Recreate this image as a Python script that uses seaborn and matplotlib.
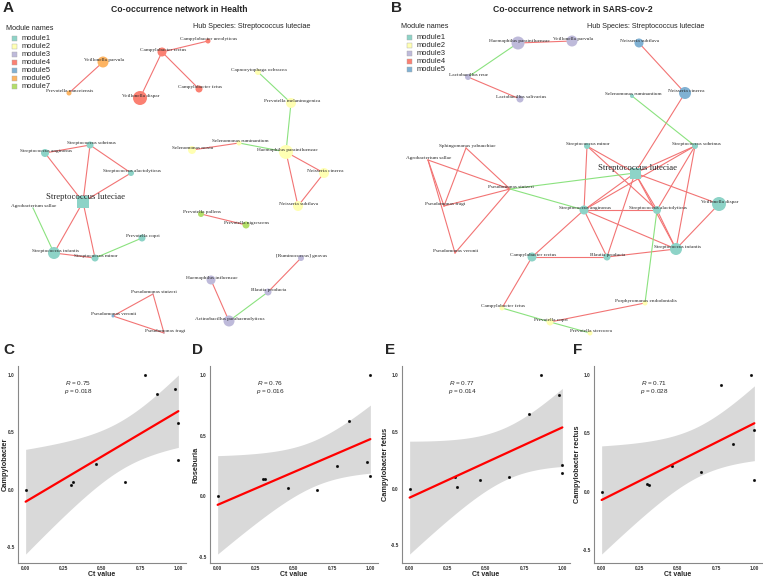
import numpy as np
import pandas as pd
import seaborn as sns
import matplotlib.pyplot as plt
from matplotlib.patches import Rectangle

sns.set_style("white")
plt.rcParams["font.family"] = ["Liberation Sans", "DejaVu Sans"]
plt.rcParams["mathtext.fontset"] = "custom"
plt.rcParams["mathtext.it"] = "Liberation Sans:italic"
plt.rcParams["mathtext.rm"] = "Liberation Sans"

W, H = 763, 578

module_colors = {"module1": "#8DD3C7", "module2": "#FFFFB3", "module3": "#BEBADA",
                 "module4": "#FB8072", "module5": "#80B1D3", "module6": "#FDB462",
                 "module7": "#B3DE69"}
pos_color = "#F27474"
neg_color = "#8BE27F"

# ---- network in Health (panel A): layout coords ----
health_nodes = ["Streptococcus luteciae", "Streptococcus alactolyticus", "Streptococcus sobrinus",
                "Streptococcus anginosus", "Agrobacterium sallae", "Streptococcus infantis",
                "Streptococcus minor", "Prevotella copri",
                "Capnocytophaga ochracea", "Prevotella melaninogenica", "Haemophilus parainfluenzae",
                "Selenomonas ruminantium", "Selenomonas noxia", "Neisseria cinerea", "Neisseria subflava",
                "[Ruminococcus] gnavus", "Blautia producta", "Haemophilus influenzae",
                "Actinobacillus parahaemolyticus",
                "Campylobacter rectus", "Campylobacter ureolyticus", "Campylobacter fetus", "Veillonella dispar",
                "Pseudomonas stutzeri", "Pseudomonas veronii", "Pseudomonas fragi",
                "Veillonella parvula", "Prevotella nanceiensis",
                "Prevotella pallens", "Prevotella nigrescens"]
health_module = ["module1"] * 8 + ["module2"] * 7 + ["module3"] * 4 + ["module4"] * 4 + \
                ["module5"] * 3 + ["module6"] * 2 + ["module7"] * 2
health_x = [83, 131, 90, 45, 33, 54, 95, 142,
            258, 291, 286, 239, 192, 324, 298,
            301, 268, 211, 229,
            162, 208, 199, 140,
            153, 113, 164,
            103, 69,
            201, 246]
health_y = [202, 173, 145, 153, 208, 253, 258, 238,
            72, 103, 152, 143, 150, 173, 206,
            258, 292, 280, 321,
            52, 41, 89, 98,
            294, 316, 333,
            62, 93,
            214, 225]
health_r = [6, 3, 3.5, 4, 0.5, 6, 3.5, 3.5,
            3, 5, 7, 2.5, 4, 5, 5,
            3, 3.5, 4.5, 5.5,
            4.5, 2.5, 3.5, 7,
            0.5, 1.5, 0.5,
            5.5, 2.5,
            3, 3.5]
health_pos_edges = [("Veillonella parvula", "Prevotella nanceiensis"),
                    ("Campylobacter rectus", "Campylobacter ureolyticus"),
                    ("Campylobacter rectus", "Veillonella dispar"),
                    ("Campylobacter rectus", "Campylobacter fetus"),
                    ("Selenomonas noxia", "Selenomonas ruminantium"),
                    ("Haemophilus parainfluenzae", "Neisseria cinerea"),
                    ("Haemophilus parainfluenzae", "Neisseria subflava"),
                    ("Neisseria cinerea", "Neisseria subflava"),
                    ("Prevotella pallens", "Prevotella nigrescens"),
                    ("[Ruminococcus] gnavus", "Blautia producta"),
                    ("Haemophilus influenzae", "Actinobacillus parahaemolyticus"),
                    ("Pseudomonas stutzeri", "Pseudomonas veronii"),
                    ("Pseudomonas stutzeri", "Pseudomonas fragi"),
                    ("Pseudomonas veronii", "Pseudomonas fragi"),
                    ("Streptococcus anginosus", "Streptococcus luteciae"),
                    ("Streptococcus sobrinus", "Streptococcus luteciae"),
                    ("Streptococcus sobrinus", "Streptococcus alactolyticus"),
                    ("Streptococcus alactolyticus", "Streptococcus luteciae"),
                    ("Streptococcus luteciae", "Streptococcus infantis"),
                    ("Streptococcus luteciae", "Streptococcus minor"),
                    ("Streptococcus infantis", "Streptococcus minor"),
                    ("Streptococcus anginosus", "Streptococcus sobrinus")]
health_neg_edges = [("Capnocytophaga ochracea", "Prevotella melaninogenica"),
                    ("Prevotella melaninogenica", "Haemophilus parainfluenzae"),
                    ("Selenomonas ruminantium", "Haemophilus parainfluenzae"),
                    ("Blautia producta", "Actinobacillus parahaemolyticus"),
                    ("Agrobacterium sallae", "Streptococcus infantis"),
                    ("Prevotella copri", "Streptococcus minor")]

# ---- network in SARS-cov-2 (panel B) ----
covid_nodes = ["Streptococcus luteciae", "Streptococcus minor", "Streptococcus sobrinus",
               "Selenomonas ruminantium", "Streptococcus anginosus", "Streptococcus alactolyticus",
               "Veillonella dispar", "Streptococcus infantis", "Blautia producta", "Campylobacter rectus",
               "Campylobacter fetus", "Prevotella copri", "Prevotella stercorea", "Porphyromonas endodontalis",
               "Haemophilus parainfluenzae", "Veillonella parvula", "Lactobacillus reue",
               "Lactobacillus salivarius",
               "Sphingomonas yabuuchiae", "Agrobacterium sallae", "Pseudomonas stutzeri",
               "Pseudomonas fragi", "Pseudomonas veronii",
               "Neisseria subflava", "Neisseria cinerea"]
covid_module = ["module1"] * 10 + ["module2"] * 4 + ["module3"] * 4 + ["module4"] * 5 + ["module5"] * 2
covid_x = [635, 587, 695, 632, 584, 657, 719, 676, 607, 532,
           502, 550, 590, 645,
           518, 572, 468, 520,
           466, 428, 510, 444, 455,
           639, 685]
covid_y = [173, 146, 146, 96, 210, 210, 204, 249, 257, 257,
           308, 322, 333, 303,
           43, 41, 77, 99,
           148, 160, 189, 206, 253,
           43, 93]
covid_r = [5.5, 3, 3, 2, 4.5, 4, 7, 6, 3.5, 4.5,
           2.5, 3.5, 2.5, 2.5,
           6.5, 5.5, 3, 3.5,
           0.5, 0.5, 0.5, 0.5, 0.5,
           4.5, 6]
covid_pos_edges = [("Haemophilus parainfluenzae", "Veillonella parvula"),
                   ("Lactobacillus reue", "Lactobacillus salivarius"),
                   ("Neisseria subflava", "Neisseria cinerea"),
                   ("Neisseria cinerea", "Streptococcus luteciae"),
                   ("Sphingomonas yabuuchiae", "Pseudomonas fragi"),
                   ("Sphingomonas yabuuchiae", "Pseudomonas stutzeri"),
                   ("Agrobacterium sallae", "Pseudomonas fragi"),
                   ("Agrobacterium sallae", "Pseudomonas stutzeri"),
                   ("Agrobacterium sallae", "Pseudomonas veronii"),
                   ("Pseudomonas fragi", "Pseudomonas stutzeri"),
                   ("Pseudomonas stutzeri", "Pseudomonas veronii"),
                   ("Campylobacter rectus", "Campylobacter fetus"),
                   ("Campylobacter rectus", "Streptococcus anginosus"),
                   ("Campylobacter rectus", "Blautia producta"),
                   ("Prevotella copri", "Porphyromonas endodontalis"),
                   ("Streptococcus minor", "Streptococcus luteciae"),
                   ("Streptococcus minor", "Streptococcus anginosus"),
                   ("Streptococcus minor", "Streptococcus alactolyticus"),
                   ("Streptococcus sobrinus", "Streptococcus luteciae"),
                   ("Streptococcus sobrinus", "Streptococcus anginosus"),
                   ("Streptococcus sobrinus", "Streptococcus alactolyticus"),
                   ("Streptococcus sobrinus", "Streptococcus infantis"),
                   ("Streptococcus luteciae", "Streptococcus anginosus"),
                   ("Streptococcus luteciae", "Streptococcus alactolyticus"),
                   ("Streptococcus luteciae", "Streptococcus infantis"),
                   ("Streptococcus luteciae", "Veillonella dispar"),
                   ("Streptococcus luteciae", "Blautia producta"),
                   ("Streptococcus anginosus", "Streptococcus alactolyticus"),
                   ("Streptococcus anginosus", "Streptococcus infantis"),
                   ("Streptococcus anginosus", "Blautia producta"),
                   ("Streptococcus alactolyticus", "Streptococcus infantis"),
                   ("Veillonella dispar", "Streptococcus infantis"),
                   ("Blautia producta", "Streptococcus infantis")]
covid_neg_edges = [("Lactobacillus reue", "Haemophilus parainfluenzae"),
                   ("Selenomonas ruminantium", "Streptococcus sobrinus"),
                   ("Pseudomonas stutzeri", "Streptococcus luteciae"),
                   ("Pseudomonas stutzeri", "Streptococcus anginosus"),
                   ("Streptococcus alactolyticus", "Porphyromonas endodontalis"),
                   ("Campylobacter fetus", "Prevotella copri"),
                   ("Prevotella copri", "Prevotella stercorea")]

hub = "Streptococcus luteciae"

# ---- correlation panels (C-F) ----
ct_value = [0.0, 0.30, 0.31, 0.46, 0.65, 0.78, 0.86, 0.98, 0.995, 1.0]
campylobacter = [0.0, 0.04, 0.07, 0.22, 0.07, 1.0, 0.83, 0.88, 0.26, 0.58]
roseburia = [0.0, 0.14, 0.14, 0.07, 0.055, 0.25, 0.62, 0.28, 0.17, 1.0]
campylobacter_fetus = [0.0, 0.10, 0.015, 0.075, 0.10, 0.66, 1.0, 0.82, 0.14, 0.205]
campylobacter_rectus = [0.0, 0.066, 0.063, 0.22, 0.166, 0.91, 0.41, 1.0, 0.10, 0.53]
corr_labels = ["Campylobacter", "Roseburia", "Campylobacter fetus", "Campylobacter rectus"]
corr_r = ["0.75", "0.76", "0.77", "0.71"]
corr_p = ["0.018", "0.016", "0.014", "0.028"]

fig = plt.figure(figsize=(W / 100, H / 100), dpi=100)


def draw_network(ax, names, modules, xs, ys, rs, pos_edges, neg_edges):
    nodes = pd.DataFrame({"name": names, "module": modules, "x": xs, "y": ys, "r": rs})
    nodes["shape"] = np.where(nodes["name"] == hub, "hub", "node")
    where = {n: (x, y) for n, x, y in zip(nodes["name"], nodes["x"], nodes["y"])}
    for edges, col in [(pos_edges, pos_color), (neg_edges, neg_color)]:
        for a, b in edges:
            ax.plot([where[a][0], where[b][0]], [where[a][1], where[b][1]],
                    color=col, lw=0.8, zorder=1, solid_capstyle="round")
    sns.scatterplot(data=nodes, x="x", y="y", hue="module", palette=module_colors,
                    size="r", sizes={r: (1.44 * r) ** 2 for r in nodes["r"].unique()},
                    style="shape", markers={"hub": "s", "node": "o"},
                    linewidth=0, legend=False, ax=ax, zorder=3)
    for _, row in nodes.iterrows():
        if row["name"] == hub:
            ax.text(row["x"] + 3, row["y"] - 5, row["name"], fontsize=6.3,
                    family="Liberation Serif", ha="center", va="center", zorder=4)
        else:
            ax.text(row["x"] + 1, row["y"] - 2, row["name"], fontsize=3.8,
                    family="Liberation Serif", ha="center", va="center", zorder=4)


def draw_legend(ax, mods, x0, y0):
    ax.text(x0, y0, "Module names", fontsize=5.2, ha="left", va="center")
    for i, m in enumerate(mods):
        yy = y0 + 10.3 + 8 * i
        ax.add_patch(Rectangle((x0 + 5.5, yy - 2.6), 5.2, 5.2, facecolor=module_colors[m],
                               edgecolor="#aaaaaa", lw=0.3))
        ax.text(x0 + 15.5, yy, m, fontsize=5.4, ha="left", va="center")


ax_a = fig.add_axes([0, 1 - 350 / H, 378 / W, 350 / H])
draw_network(ax_a, health_nodes, health_module, health_x, health_y, health_r,
             health_pos_edges, health_neg_edges)
ax_a.set_xlim(0, 378)
ax_a.set_ylim(350, 0)
ax_a.axis("off")
draw_legend(ax_a, sorted(set(health_module)), 6, 28)
ax_a.text(179, 10, "Co-occurrence network in Health", fontsize=6.2, fontweight="bold",
          ha="center", va="center")
ax_a.text(252, 26, "Hub Species: Streptococcus luteciae", fontsize=5.2, ha="center", va="center")
ax_a.text(3, 8, "A", fontsize=11, fontweight="bold", ha="left", va="center")

ax_b = fig.add_axes([380 / W, 1 - 350 / H, 383 / W, 350 / H])
draw_network(ax_b, covid_nodes, covid_module, covid_x, covid_y, covid_r,
             covid_pos_edges, covid_neg_edges)
ax_b.set_xlim(380, 763)
ax_b.set_ylim(350, 0)
ax_b.axis("off")
draw_legend(ax_b, sorted(set(covid_module)), 401, 27)
ax_b.text(573, 10, "Co-occurrence network in SARS-cov-2", fontsize=6.2, fontweight="bold",
          ha="center", va="center")
ax_b.text(646, 26, "Hub Species: Streptococcus luteciae", fontsize=5.2, ha="center", va="center")
ax_b.text(391, 8, "B", fontsize=11, fontweight="bold", ha="left", va="center")

# correlation scatter panels
panel_left = [18, 210, 402, 594]
ylabel_x = [-0.054, -0.06, -0.077, -0.077]
letters = ["C", "D", "E", "F"]
letter_x = [3, 192, 385, 573]
series = [campylobacter, roseburia, campylobacter_fetus, campylobacter_rectus]
x = np.array(ct_value)
for k in range(4):
    ax = fig.add_axes([panel_left[k] / W, (578 - 563) / H, 168 / W, 197 / H])
    y = np.array(series[k])
    n = len(x)
    b, a = np.polyfit(x, y, 1)
    resid = y - (a + b * x)
    s = np.sqrt((resid ** 2).sum() / (n - 2))
    sxx = ((x - x.mean()) ** 2).sum()
    grid = np.linspace(x.min(), x.max(), 100)
    half = 2.306 * s * np.sqrt(1 / n + (grid - x.mean()) ** 2 / sxx)
    fit = a + b * grid
    ax.fill_between(grid, fit - half, fit + half, color="#d9d9d9", lw=0, zorder=0)
    sns.regplot(x=x, y=y, ci=None, ax=ax, truncate=True,
                scatter_kws=dict(s=1.5, color="black", zorder=2),
                line_kws=dict(color="#ff0000", lw=1.6, zorder=3))
    lo = min((fit - half).min(), y.min())
    hi = max((fit + half).max(), y.max())
    rng = hi - lo
    ax.set_ylim(lo - 0.05 * rng, hi + 0.05 * rng)
    ax.set_xlim(-0.05, 1.05)
    ax.set_xticks([0, 0.25, 0.5, 0.75, 1.0])
    ax.set_xticklabels(["0.00", "0.25", "0.50", "0.75", "1.00"])
    ax.set_yticks([-0.5, 0.0, 0.5, 1.0])
    ax.set_yticklabels(["-0.5", "0.0", "0.5", "1.0"])
    ax.tick_params(labelsize=3.4, length=1.5, width=0.5, pad=0.8, colors="#333333")
    for t in ax.get_xticklabels() + ax.get_yticklabels():
        t.set_fontweight("bold")
    sns.despine(ax=ax)
    for sp in ["left", "bottom"]:
        ax.spines[sp].set_color("#888888")
        ax.spines[sp].set_linewidth(0.8)
    ax.set_xlabel("Ct value", fontsize=5.0, fontweight="bold")
    ax.set_ylabel(corr_labels[k], fontsize=5.3, fontweight="bold")
    ax.xaxis.set_label_coords(0.5, -0.042)
    ax.yaxis.set_label_coords(ylabel_x[k], 0.5)
    ax.text(0.357, 0.915, "$R$ = " + corr_r[k], transform=ax.transAxes, fontsize=4.6,
            ha="center", va="center")
    ax.text(0.357, 0.87, "$p$ = " + corr_p[k], transform=ax.transAxes, fontsize=4.6,
            ha="center", va="center")
    fig.text(letter_x[k] / W, 1 - 350 / H, letters[k], fontsize=11, fontweight="bold",
             ha="left", va="center")

fig.savefig("out.png", dpi=100)
